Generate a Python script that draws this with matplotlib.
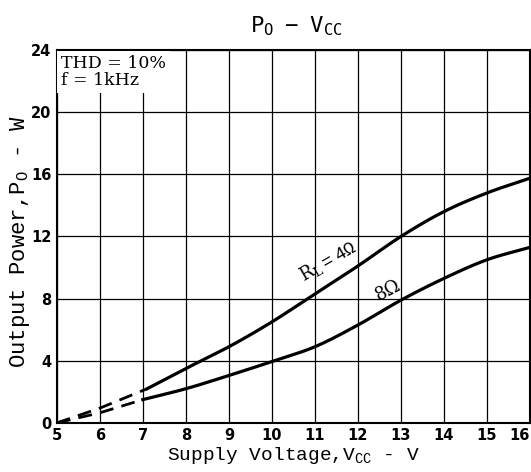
import matplotlib
matplotlib.use("Agg")
import matplotlib.pyplot as plt
import numpy as np

plt.rcParams['mathtext.fontset'] = 'custom'
plt.rcParams['mathtext.rm'] = 'Liberation Mono'
plt.rcParams['mathtext.sf'] = 'DejaVu Sans Mono'
plt.rcParams['mathtext.it'] = 'DejaVu Serif'
plt.rcParams['mathtext.bf'] = 'DejaVu Serif'
plt.rcParams['mathtext.tt'] = 'Liberation Mono'

# Data
v_4_solid = [7.1, 8, 9, 10, 11, 12, 13, 14, 15, 16]
p_4_solid = [2.2, 3.5, 4.9, 6.5, 8.3, 10.1, 12.0, 13.6, 14.8, 15.75]
v_4_dash = [5.0, 6.0, 7.1]
p_4_dash = [0.0, 0.95, 2.2]

v_8_solid = [7.0, 8, 9, 10, 11, 12, 13, 14, 15, 16]
p_8_solid = [1.5, 2.2, 3.05, 3.95, 4.9, 6.3, 7.9, 9.3, 10.5, 11.3]
v_8_dash = [5.0, 6.0, 7.0]
p_8_dash = [0.0, 0.65, 1.5]

xticks = list(range(5, 17))
yticks = [0, 4, 8, 12, 16, 20, 24]

fig = plt.figure(figsize=(5.31, 4.72), dpi=100)
ax = fig.add_axes([0.107, 0.104, 0.891, 0.790])
ax.set_xlim(5, 16)
ax.set_ylim(0, 24)

def smooth(xs, ys, n=200):
    xs = np.asarray(xs, float); ys = np.asarray(ys, float)
    xx = np.linspace(xs[0], xs[-1], n)
    out = []
    for t in xx:
        i = min(np.searchsorted(xs, t, side='right') - 1, len(xs) - 2)
        i = max(i, 0)
        x0, x1 = xs[i], xs[i + 1]
        y0, y1 = ys[i], ys[i + 1]
        m0 = (ys[i + 1] - ys[i - 1]) / (xs[i + 1] - xs[i - 1]) if i > 0 else (y1 - y0) / (x1 - x0)
        m1 = (ys[i + 2] - ys[i]) / (xs[i + 2] - xs[i]) if i + 2 < len(xs) else (y1 - y0) / (x1 - x0)
        h = x1 - x0
        s = (t - x0) / h
        h00 = 2 * s**3 - 3 * s**2 + 1
        h10 = s**3 - 2 * s**2 + s
        h01 = -2 * s**3 + 3 * s**2
        h11 = s**3 - s**2
        out.append(h00 * y0 + h10 * h * m0 + h01 * y1 + h11 * h * m1)
    return xx, np.array(out)

for x in xticks:
    ax.axvline(x, color='black', lw=0.9, zorder=1)
for y in yticks:
    ax.axhline(y, color='black', lw=0.9, zorder=1)

x, y = smooth(v_4_solid, p_4_solid)
ax.plot(x, y, color='black', lw=2.3, zorder=3)
x, y = smooth(v_8_solid, p_8_solid)
ax.plot(x, y, color='black', lw=2.3, zorder=3)
ax.plot(v_4_dash, p_4_dash, color='black', lw=2.0, ls=(0, (5, 3)), zorder=3)
ax.plot(v_8_dash, p_8_dash, color='black', lw=2.0, ls=(0, (5, 3)), zorder=3)

for s in ax.spines.values():
    s.set_linewidth(1.5)

ax.set_xticks(xticks)
ax.set_yticks(yticks)
ax.tick_params(length=0, pad=4)
for lab in ax.get_xticklabels() + ax.get_yticklabels():
    lab.set_fontweight('bold')
    lab.set_fontsize(10.5)
    lab.set_family('DejaVu Sans')
ax.get_xticklabels()[-1].set_horizontalalignment('right')

ax.text(5.1, 23.7, "THD = 10%\nf = 1kHz", fontsize=12.5, family='DejaVu Serif',
        va='top', ha='left', linespacing=1.0, zorder=4,
        bbox=dict(facecolor='white', edgecolor='none', pad=3))

ax.text(11.3, 10.4, r"$\mathit{R_L=4\Omega}$", fontsize=13, family='DejaVu Serif',
        rotation=30, ha='center', va='center', zorder=4)
ax.text(12.7, 8.5, "8Ω", fontsize=13, family='DejaVu Serif',
        rotation=28, ha='center', va='center', zorder=4)

fig.text(0.557, 0.932, r"$\mathsf{P_O\ -\ V_{CC}}$", fontsize=16,
         family='DejaVu Sans Mono', ha='center', va='baseline')
ax.set_xlabel(r"Supply Voltage,V$_{\mathrm{CC}}$ - V", fontsize=14,
              family='Liberation Mono', labelpad=1)
ax.set_ylabel(r"Output Power,P$_{\mathrm{O}}$ - W", fontsize=16,
              family='Liberation Mono', labelpad=1)
ax.yaxis.set_label_coords(-0.052, 0.485)

fig.savefig("out.png", dpi=100)
